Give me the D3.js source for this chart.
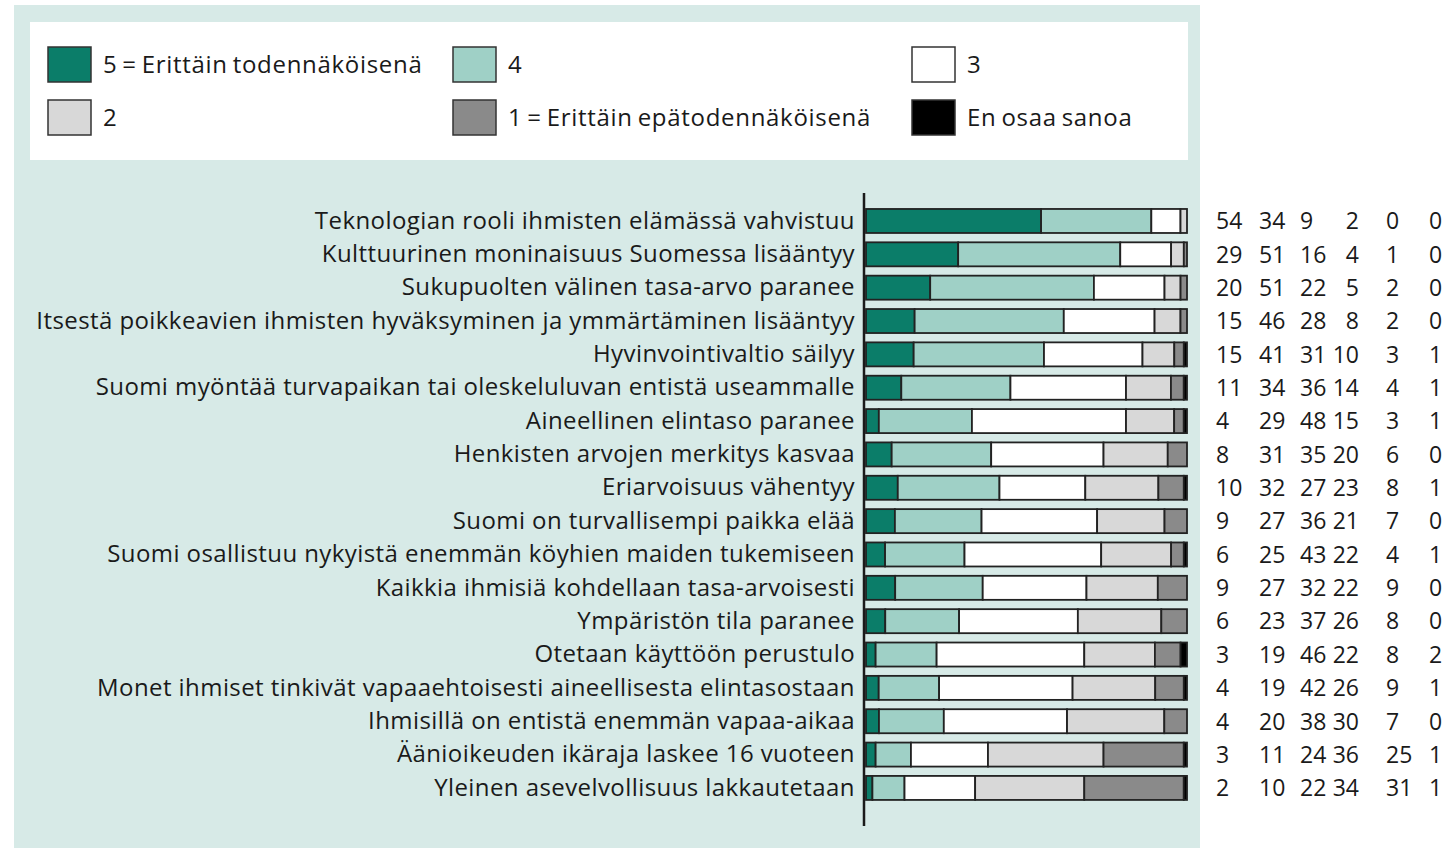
<!DOCTYPE html>
<html>
<head>
<meta charset="utf-8">
<script src="https://cdn.jsdelivr.net/npm/d3@7"></script>
<style>
  body { margin: 0; background: #fff; }
  svg text { font-family: "Open Sans", "Noto Sans", sans-serif; fill: #1a1a1a; }
</style>
</head>
<body>
<div id="chart"></div>
<script>
// statements (rows, top to bottom)
const categories = [
  "Teknologian rooli ihmisten elämässä vahvistuu",
  "Kulttuurinen moninaisuus Suomessa lisääntyy",
  "Sukupuolten välinen tasa-arvo paranee",
  "Itsestä poikkeavien ihmisten hyväksyminen ja ymmärtäminen lisääntyy",
  "Hyvinvointivaltio säilyy",
  "Suomi myöntää turvapaikan tai oleskeluluvan entistä useammalle",
  "Aineellinen elintaso paranee",
  "Henkisten arvojen merkitys kasvaa",
  "Eriarvoisuus vähentyy",
  "Suomi on turvallisempi paikka elää",
  "Suomi osallistuu nykyistä enemmän köyhien maiden tukemiseen",
  "Kaikkia ihmisiä kohdellaan tasa-arvoisesti",
  "Ympäristön tila paranee",
  "Otetaan käyttöön perustulo",
  "Monet ihmiset tinkivät vapaaehtoisesti aineellisesta elintasostaan",
  "Ihmisillä on entistä enemmän vapaa-aikaa",
  "Äänioikeuden ikäraja laskee 16 vuoteen",
  "Yleinen asevelvollisuus lakkautetaan"
];

// percentages per answer option
const s5  = [54, 29, 20, 15, 15, 11, 4, 8, 10, 9, 6, 9, 6, 3, 4, 4, 3, 2];
const s4  = [34, 51, 51, 46, 41, 34, 29, 31, 32, 27, 25, 27, 23, 19, 19, 20, 11, 10];
const s3  = [9, 16, 22, 28, 31, 36, 48, 35, 27, 36, 43, 32, 37, 46, 42, 38, 24, 22];
const s2  = [2, 4, 5, 8, 10, 14, 15, 20, 23, 21, 22, 22, 26, 22, 26, 30, 36, 34];
const s1  = [0, 1, 2, 2, 3, 4, 3, 6, 8, 7, 4, 9, 8, 8, 9, 7, 25, 31];
const eos = [0, 0, 0, 0, 1, 1, 1, 0, 1, 0, 1, 0, 0, 2, 1, 0, 1, 1];

const keys = ["s5", "s4", "s3", "s2", "s1", "eos"];
const legendLabels = ["5 = Erittäin todennäköisenä", "4", "3", "2", "1 = Erittäin epätodennäköisenä", "En osaa sanoa"];
const colors = ["#0b7d69", "#9fd0c6", "#ffffff", "#d8d8d8", "#8a8a8a", "#000000"];

const W = 1448, H = 848;
const svg = d3.select("#chart").append("svg")
  .attr("width", W).attr("height", H);

// background panel and legend box
svg.append("rect").attr("x", 14).attr("y", 5).attr("width", 1186).attr("height", H - 5)
  .attr("fill", "#d7eae7");
svg.append("rect").attr("x", 30).attr("y", 22).attr("width", 1158).attr("height", 138)
  .attr("fill", "#ffffff");

// legend
const legendPos = [
  {x: 48, y: 47}, {x: 453, y: 47}, {x: 912, y: 47},
  {x: 48, y: 100}, {x: 453, y: 100}, {x: 912, y: 100}
];
const lg = svg.append("g").selectAll("g")
  .data(legendLabels)
  .join("g")
  .attr("transform", (d, i) => "translate(" + legendPos[i].x + "," + legendPos[i].y + ")");
lg.append("rect")
  .attr("width", 43).attr("height", 35)
  .attr("fill", (d, i) => colors[i])
  .attr("stroke", "#333").attr("stroke-width", 1.5);
lg.append("text")
  .attr("x", 55).attr("y", 18).attr("dy", "0.35em")
  .attr("font-size", 24)
  .attr("letter-spacing", 0.7)
  .attr("word-spacing", -2)
  .text(d => d);

// data table
const rows = categories.map((c, i) => ({
  cat: c, s5: s5[i], s4: s4[i], s3: s3[i], s2: s2[i], s1: s1[i], eos: eos[i]
}));
// bars drawn as share of each row's total so every bar fills the width
const norm = rows.map(r => {
  const tot = d3.sum(keys, k => r[k]);
  const o = {cat: r.cat};
  keys.forEach(k => o[k] = r[k] / tot * 100);
  return o;
});
const series = d3.stack().keys(keys)(norm);

const x = d3.scaleLinear().domain([0, 100]).range([866, 1187]);
const y = d3.scaleBand().domain(categories).range([204.3, 804.6])
  .paddingInner(0.28).paddingOuter(0.14);

svg.append("g").selectAll("g")
  .data(series)
  .join("g")
  .attr("fill", (d, i) => colors[i])
  .selectAll("rect")
  .data(d => d)
  .join("rect")
  .attr("x", d => x(d[0]))
  .attr("y", d => y(d.data.cat))
  .attr("width", d => x(d[1]) - x(d[0]))
  .attr("height", y.bandwidth())
  .attr("stroke", "#222")
  .attr("stroke-width", 1.8);

// category labels on the left of the vertical line
const yAxis = svg.append("g")
  .attr("transform", "translate(864,0)")
  .call(d3.axisLeft(y).tickSize(0).tickPadding(9));
yAxis.select(".domain").remove();
yAxis.selectAll("text")
  .attr("font-size", 24)
  .attr("font-family", "'Open Sans', 'Noto Sans', sans-serif")
  .attr("fill", "#1a1a1a")
  .attr("letter-spacing", 0.42);
svg.append("line")
  .attr("x1", 864).attr("x2", 864).attr("y1", 193).attr("y2", 826)
  .attr("stroke", "#1a1a1a").attr("stroke-width", 2.5);

// numbers to the right (4th column right-aligned, as in the source)
const colX = [1216, 1259, 1300, 1359, 1386, 1429];
const numG = svg.append("g").selectAll("g")
  .data(rows)
  .join("g")
  .attr("transform", d => "translate(0," + (y(d.cat) + y.bandwidth() / 2) + ")");
keys.forEach((k, j) => {
  numG.append("text")
    .attr("x", colX[j])
    .attr("dy", "0.36em")
    .attr("font-size", 23)
    .attr("text-anchor", j === 3 ? "end" : "start")
    .text(d => d[k]);
});
</script>
</body>
</html>
